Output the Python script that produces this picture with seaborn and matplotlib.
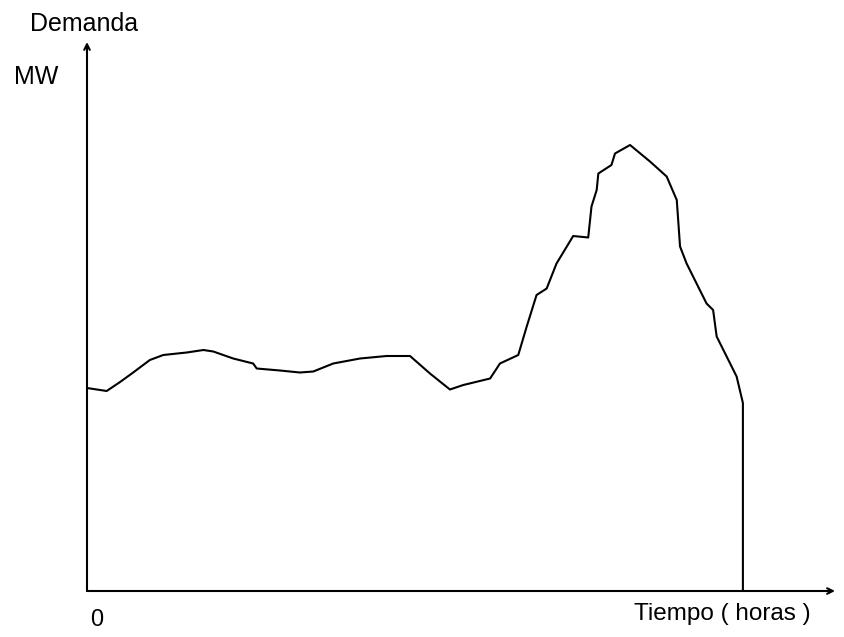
import matplotlib
matplotlib.use("Agg")
import matplotlib.pyplot as plt
import seaborn as sns
import pandas as pd

# Data (hours, MW in arbitrary units)
horas = [0.0, 0.72, 1.21, 1.69, 2.30, 2.79, 3.65, 4.26, 4.62, 5.35, 6.08, 6.21,
         7.06, 7.79, 8.28, 9.01, 9.99, 10.96, 11.82, 12.55, 13.28, 13.77, 14.75,
         15.11, 15.78, 16.09, 16.45, 16.82, 17.18, 17.79, 18.34, 18.46, 18.65,
         18.71, 19.19, 19.32, 19.87, 20.60, 21.21, 21.58, 21.70, 21.94, 22.67,
         22.91, 23.04, 23.77, 24.0, 24.0]
demanda = [406, 400, 418, 437, 462, 472, 477, 482, 479, 465, 455, 445,
           441, 437, 439, 455, 465, 470, 470, 435, 403, 412, 425,
           455, 472, 529, 592, 605, 655, 710, 707, 769, 802,
           835, 852, 875, 892, 859, 829, 782, 689, 655, 575,
           562, 509, 429, 376, 0]

x_max = 27.37
y_max = 1098

sns.set_style("white")
plt.rcParams['font.family'] = ['Liberation Sans', 'DejaVu Sans']
plt.rcParams['text.color'] = 'black'

fig = plt.figure(figsize=(8.44, 6.37), dpi=100)
ax = fig.add_axes([87 / 844, 46 / 637, (835 - 87) / 844, (591 - 42) / 637])

df = pd.DataFrame({"Tiempo": horas, "Demanda": demanda})
sns.lineplot(data=df, x="Tiempo", y="Demanda", ax=ax, color="black",
             linewidth=1.5, sort=False, estimator=None)

ax.set_xlim(0, x_max)
ax.set_ylim(0, y_max)
for s in ax.spines.values():
    s.set_visible(False)
ax.set_xticks([])
ax.set_yticks([])
ax.set_xlabel("")
ax.set_ylabel("")

# axis arrows
ax.annotate("", xy=(1.0, 0), xytext=(0, 0), xycoords="axes fraction",
            textcoords="axes fraction",
            arrowprops=dict(arrowstyle="->", color="black", lw=1.5,
                            shrinkA=0, shrinkB=0))
ax.annotate("", xy=(0, 1.0), xytext=(0, 0), xycoords="axes fraction",
            textcoords="axes fraction",
            arrowprops=dict(arrowstyle="->", color="black", lw=1.5,
                            shrinkA=0, shrinkB=0))

fig.text(84 / 844, 1 - 24 / 637, "Demanda", ha="center", va="center",
         fontsize=18, color="black")
fig.text(36 / 844, 1 - 77 / 637, "MW", ha="center", va="center",
         fontsize=18, color="black")
fig.text(97 / 844, 1 - 620 / 637, "0", ha="center", va="center",
         fontsize=17, color="black")
fig.text(722 / 844, 1 - 614 / 637, "Tiempo ( horas )", ha="center", va="center",
         fontsize=17.5, color="black")

fig.savefig("out.png", dpi=100)
